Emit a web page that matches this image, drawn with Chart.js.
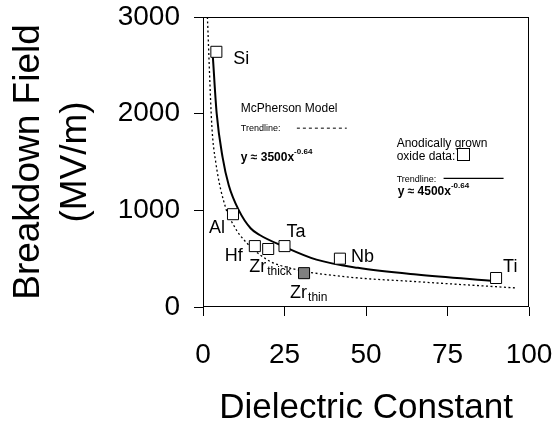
<!DOCTYPE html>
<html>
<head>
<meta charset="utf-8">
<script src="https://cdn.jsdelivr.net/npm/chart.js@4"></script>
<style>
  html, body { margin: 0; padding: 0; background: #fff; }
  #wrap { width: 555px; height: 429px; }
</style>
</head>
<body>
<div id="wrap"><canvas id="chart"></canvas></div>
<script>
const materials = ['Si', 'Al', 'Hf', 'Zr_thick', 'Ta', 'Zr_thin', 'Nb', 'Ti'];
const dielectricConstant = [4.1, 9.2, 15.9, 20.0, 25.0, 31.0, 42.0, 89.9];
const breakdownField = [2640, 960, 630, 600, 630, 350, 500, 300];

// anodic oxide trendline (solid)
const anodicFitX = [3.0, 4.2, 6.0, 7.9, 11.0, 14.6, 17.4, 24.5, 34.8, 47.5, 65.5, 89.9];
const anodicFitY = [2600, 2000, 1550, 1260, 1000, 815, 745, 630, 490, 405, 335, 268];

// McPherson model trendline (dotted)
const mcphersonX = [1.35, 2.7, 3.9, 7.0, 9.5, 11.3, 19.4, 27.6, 44.0, 65.5, 96.0];
const mcphersonY = [3000, 1880, 1500, 1020, 840, 745, 495, 395, 312, 262, 197];

const xTicks = [0, 25, 50, 75, 100];
const yTicks = [0, 1000, 2000, 3000];

const FONT = '"Liberation Sans", Arial, sans-serif';

const pts = (xs, ys) => xs.map((x, i) => ({ x: x, y: ys[i] }));

// where each material name sits relative to its marker: dx, dy (baseline)
const labelPos = {
  Si: [17, 12, 'left'],
  Al: [-8, 19, 'right'],
  Hf: [-12, 15, 'right'],
  Zr_thick: [-19, 23, 'left'],
  Ta: [2, -9, 'left'],
  Zr_thin: [-14, 25, 'left'],
  Nb: [11, 3, 'left'],
  Ti: [7, -6, 'left']
};

const notes = {
  id: 'notes',
  afterDatasetsDraw(chart) {
    const { ctx, chartArea: a, scales: { x, y } } = chart;
    ctx.save();

    // frame
    ctx.strokeStyle = '#000';
    ctx.lineWidth = 1;
    ctx.strokeRect(Math.round(a.left) + 0.5, Math.round(a.top) + 0.5,
      Math.round(a.width) - 1, Math.round(a.height) - 1);

    ctx.fillStyle = '#000';
    ctx.textBaseline = 'alphabetic';

    // material labels
    const meta = chart.getDatasetMeta(0);
    materials.forEach((name, i) => {
      const p = meta.data[i];
      const [dx, dy, align] = labelPos[name];
      const [main, sub] = name.split('_');
      ctx.font = '18px ' + FONT;
      ctx.textAlign = align;
      ctx.fillText(main, p.x + dx, p.y + dy);
      if (sub) {
        const w = ctx.measureText(main).width;
        ctx.font = '12px ' + FONT;
        ctx.textAlign = 'left';
        ctx.fillText(sub, p.x + dx + w + 1, p.y + dy + 3);
      }
    });

    ctx.textAlign = 'left';
    const put = (txt, font, dx, dy) => {
      ctx.font = font + ' ' + FONT;
      ctx.fillText(txt, dx, dy);
      return ctx.measureText(txt).width;
    };
    const line = (x0, x1, yy, dash, w) => {
      ctx.beginPath();
      ctx.setLineDash(dash);
      ctx.lineWidth = w;
      ctx.moveTo(x0, yy);
      ctx.lineTo(x1, yy);
      ctx.stroke();
      ctx.setLineDash([]);
    };

    // McPherson model box
    let lx = x.getPixelForValue(11.6);
    put('McPherson Model', '12px', lx, y.getPixelForValue(2020));
    put('Trendline:', '9px', lx, y.getPixelForValue(1824));
    line(x.getPixelForValue(28.8), x.getPixelForValue(44.1), y.getPixelForValue(1850), [3, 3], 1);
    let by = y.getPixelForValue(1513);
    let w = put('y \u2248 3500x', 'bold 12px', lx, by);
    put('-0.64', 'bold 8px', lx + w, by - 7);

    // anodic oxide box
    lx = x.getPixelForValue(59.4);
    put('Anodically grown', '12px', lx, y.getPixelForValue(1658));
    w = put('oxide data:', '12px', lx, y.getPixelForValue(1524));
    const bx = lx + w + 1.5, bTop = y.getPixelForValue(1524) - 12;
    ctx.lineWidth = 1;
    ctx.fillStyle = '#fff';
    ctx.fillRect(bx, bTop, 12, 12);
    ctx.strokeRect(Math.round(bx) + 0.5, Math.round(bTop) + 0.5, 12, 12);
    ctx.fillStyle = '#000';
    put('Trendline:', '9px', lx, y.getPixelForValue(1296));
    line(x.getPixelForValue(73.8), x.getPixelForValue(92.2), y.getPixelForValue(1330), [], 1.2);
    by = y.getPixelForValue(1162);
    w = put('y \u2248 4500x', 'bold 12px', lx + 1, by);
    put('-0.64', 'bold 8px', lx + 1 + w, by - 7);

    ctx.restore();
  }
};

new Chart(document.getElementById('chart'), {
  type: 'scatter',
  data: {
    datasets: [
      {
        label: 'Anodically grown oxide data',
        data: pts(dielectricConstant, breakdownField),
        pointStyle: 'rect',
        pointRadius: 7.8,
        pointHoverRadius: 7.8,
        pointBorderWidth: 1,
        pointBorderColor: '#000',
        pointBackgroundColor: materials.map(m => m === 'Zr_thin' ? '#808080' : '#fff'),
        order: 0
      },
      {
        type: 'line',
        label: 'Anodic trendline',
        data: pts(anodicFitX, anodicFitY),
        borderColor: '#000',
        borderWidth: 2,
        pointRadius: 0,
        cubicInterpolationMode: 'monotone',
        fill: false,
        order: 1
      },
      {
        type: 'line',
        label: 'McPherson model',
        data: pts(mcphersonX, mcphersonY),
        borderColor: '#000',
        borderWidth: 1.3,
        borderDash: [2, 2.5],
        pointRadius: 0,
        cubicInterpolationMode: 'monotone',
        fill: false,
        order: 2
      }
    ]
  },
  options: {
    responsive: true,
    maintainAspectRatio: false,
    animation: false,
    events: [],
    layout: { padding: { left: 0, top: 17, right: 26, bottom: 0 } },
    plugins: { legend: { display: false }, tooltip: { enabled: false } },
    scales: {
      x: {
        type: 'linear',
        min: 0,
        max: 100,
        afterBuildTicks: s => { s.ticks = xTicks.map(v => ({ value: v })); },
        afterFit: s => { s.height = 122; s.paddingLeft = 0; s.paddingRight = 0; },
        grid: { display: true, drawOnChartArea: false, drawTicks: true, tickLength: 9, color: '#000', lineWidth: 1 },
        border: { display: false },
        ticks: { color: '#000', font: { family: FONT, size: 28 }, padding: 22, maxRotation: 0, callback: v => String(v) },
        title: {
          display: true,
          text: 'Dielectric Constant',
          color: '#000',
          font: { family: FONT, size: 35 },
          padding: { top: 0, bottom: 0 }
        }
      },
      y: {
        type: 'linear',
        min: 0,
        max: 3000,
        afterBuildTicks: s => { s.ticks = yTicks.map(v => ({ value: v })); },
        afterFit: s => { s.width = 203; s.paddingTop = 0; s.paddingBottom = 0; },
        grid: { display: true, drawOnChartArea: false, drawTicks: true, tickLength: 9, color: '#000', lineWidth: 1 },
        border: { display: false },
        ticks: { color: '#000', font: { family: FONT, size: 28 }, padding: 14, callback: v => String(v) },
        title: {
          display: true,
          text: ['Breakdown Field', '(MV/m)'],
          color: '#000',
          font: { family: FONT, size: 37, lineHeight: 1.27 },
          padding: { top: 5, bottom: 0 }
        }
      }
    }
  },
  plugins: [notes]
});
</script>
</body>
</html>
